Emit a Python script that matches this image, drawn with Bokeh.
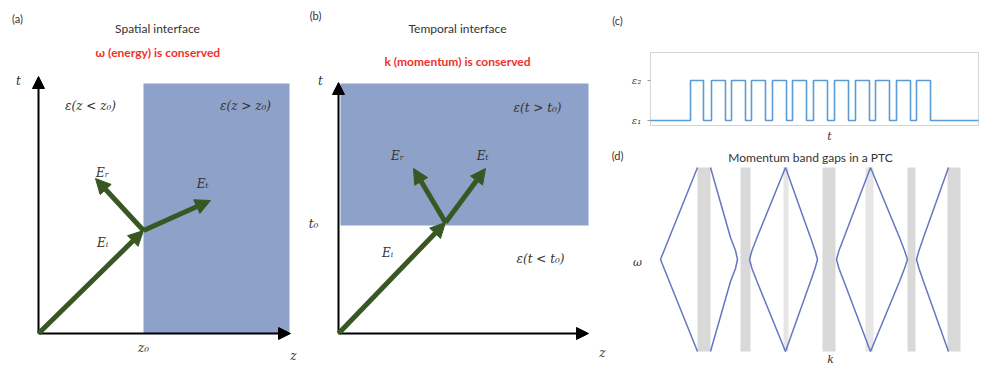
from bokeh.plotting import figure
from bokeh.models import Range1d, ColumnDataSource, Arrow, NormalHead
from bokeh.layouts import row, column
from bokeh.embed import file_html
from bokeh.resources import INLINE
from bokeh.core.properties import value

# ---------------- data ----------------
# Panel (a) spatial interface (schematic units, origin at axes origin)
a_z_axis_end = 252
a_t_axis_end = 257
a_region = dict(left=105, right=251, bottom=0, top=250)      # eps(z > z0) medium
a_wave_x0 = [0, 105, 105]
a_wave_y0 = [0, 103, 103]
a_wave_x1 = [105, 57, 172]
a_wave_y1 = [103, 155, 133]
a_wave_labels = ["Eᵢ", "Eᵣ", "Eₜ"]
a_wave_label_x = [64, 64, 164]
a_wave_label_y = [91, 161, 150]

# Panel (b) temporal interface
b_z_axis_end = 250
b_t_axis_end = 251
b_region = dict(left=2, right=250, bottom=108, top=250)      # eps(t > t0) medium
b_wave_x0 = [0, 107, 107]
b_wave_y0 = [0, 111, 111]
b_wave_x1 = [107, 75, 147]
b_wave_y1 = [111, 165, 165]
b_wave_labels = ["Eᵢ", "Eᵣ", "Eₜ"]
b_wave_label_x = [49, 59, 144]
b_wave_label_y = [81, 178, 178]

# Panel (c) permittivity modulation eps(t)
c_eps_levels = [1, 2]
c_eps_tick_labels = ["ε₁", "ε₂"]
c_t_start, c_t_end = 0, 328
c_box_eps = (0.875, 2.7)
c_t_rise = [40, 61, 81, 101, 122, 142, 163, 184, 205, 225, 246, 266]
c_t_fall = [53, 75, 95, 115, 136, 156, 177, 198, 219, 239, 260, 280]

# Panel (d) momentum band gaps (k gaps as bands, dispersion branches)
d_gap_left = [89, 132, 175, 214, 257, 299, 339]
d_gap_right = [102, 142, 180, 227, 265, 307, 352]
d_gap_shade = ["#d9d9d9", "#d9d9d9", "#e6e6e6", "#d9d9d9", "#e6e6e6", "#d9d9d9", "#d9d9d9"]
d_w_min, d_w_max = -92, 92
d_branch_k = [
    [89, 52, 89],
    [102, 122, 127, 129, 127, 122, 102],
    [141, 143.5, 148.5, 177, 202, 206.5, 209, 206.5, 202, 177, 148.5, 143.5, 141],
    [228, 230.5, 235.5, 262, 291, 296, 299, 296, 291, 262, 235.5, 230.5, 228],
    [340, 315, 310.5, 308, 310.5, 315, 340],
]
d_branch_w = [
    [92, 0, -92],
    [92, 22, 9, 0, -9, -22, -92],
    [0, 9, 22, 92, 22, 9, 0, -9, -22, -92, -22, -9, 0],
    [0, 9, 22, 92, 22, 9, 0, -9, -22, -92, -22, -9, 0],
    [92, 22, 9, 0, -9, -22, -92],
]

# ---------------- styles ----------------
GREEN = "#385723"
BLUE_BG = "#8da1c9"
RED = "#f0302a"
TXT = "#333333"
SANS = value("Lato")
SERIF = value("DejaVu Serif")


def blank_fig(w, h, xr, yr):
    p = figure(width=w, height=h, x_range=Range1d(*xr), y_range=Range1d(*yr),
               output_backend="svg", toolbar_location=None, min_border=0,
               x_axis_location=None, y_axis_location=None)
    p.grid.visible = False
    p.outline_line_color = None
    p.background_fill_color = "white"
    p.border_fill_color = "white"
    return p


def add_axes_arrows(p, zend, tend):
    for (x1, y1) in [(zend, 0), (0, tend)]:
        p.add_layout(Arrow(end=NormalHead(size=12, fill_color="black", line_color="black"),
                           x_start=0, y_start=0, x_end=x1, y_end=y1,
                           line_color="black", line_width=2))


def add_waves(p, x0, y0, x1, y1):
    src = ColumnDataSource(dict(x0=x0, y0=y0, x1=x1, y1=y1))
    p.add_layout(Arrow(end=NormalHead(size=15, fill_color=GREEN, line_color=GREEN),
                       source=src, x_start="x0", y_start="y0", x_end="x1", y_end="y1",
                       line_color=GREEN, line_width=5))


def txt(p, x, y, t, size="12px", color=TXT, font=SANS, style="normal", align="center"):
    p.text(x=[x], y=[y], text=[t], text_font=font, text_font_size=size,
           text_color=color, text_font_style=style, text_align=align,
           text_baseline="middle")


# ---------------- panel (a) ----------------
pa = blank_fig(308, 365, (-38, 270), (-32, 333))
pa.quad(left=[a_region["left"]], right=[a_region["right"]], bottom=[a_region["bottom"]],
        top=[a_region["top"]], fill_color=BLUE_BG, line_color=None)
add_axes_arrows(pa, a_z_axis_end, a_t_axis_end)
add_waves(pa, a_wave_x0, a_wave_y0, a_wave_x1, a_wave_y1)
pa.text(x=a_wave_label_x, y=a_wave_label_y, text=a_wave_labels, text_font=SERIF,
        text_font_size="12px", text_font_style="italic", text_color=TXT,
        text_align="center", text_baseline="middle")
txt(pa, -21, 315, "(a)", size="11px")
txt(pa, 119, 305, "Spatial interface", size="12px")
txt(pa, 119, 281, "ω (energy) is conserved", size="12px", color=RED, style="bold")
txt(pa, -20, 253, "t", size="12px", font=SERIF, style="italic")
txt(pa, 52, 228, "ε(z < z₀)", size="12px", font=SERIF, style="italic")
txt(pa, 207, 228, "ε(z > z₀)", size="12px", font=SERIF, style="italic")
txt(pa, 105, -14, "z₀", size="12px", font=SERIF, style="italic")
txt(pa, 255, -22, "z", size="12px", font=SERIF, style="italic")

# ---------------- panel (b) ----------------
pb = blank_fig(300, 365, (-30, 270), (-32, 333))
pb.quad(left=[b_region["left"]], right=[b_region["right"]], bottom=[b_region["bottom"]],
        top=[b_region["top"]], fill_color=BLUE_BG, line_color=None)
add_axes_arrows(pb, b_z_axis_end, b_t_axis_end)
add_waves(pb, b_wave_x0, b_wave_y0, b_wave_x1, b_wave_y1)
pb.text(x=b_wave_label_x, y=b_wave_label_y, text=b_wave_labels, text_font=SERIF,
        text_font_size="12px", text_font_style="italic", text_color=TXT,
        text_align="center", text_baseline="middle")
txt(pb, -23, 318, "(b)", size="11px")
txt(pb, 119, 305, "Temporal interface", size="12px")
txt(pb, 119, 272, "k (momentum) is conserved", size="12px", color=RED, style="bold")
txt(pb, -18, 253, "t", size="12px", font=SERIF, style="italic")
txt(pb, -25, 110, "t₀", size="12px", font=SERIF, style="italic")
txt(pb, 199, 226, "ε(t > t₀)", size="12px", font=SERIF, style="italic")
txt(pb, 202, 75, "ε(t < t₀)", size="12px", font=SERIF, style="italic")
txt(pb, 264, -19, "z", size="12px", font=SERIF, style="italic")

# ---------------- panel (c) ----------------
step_t = [c_t_start]
step_e = [c_eps_levels[0]]
for r, f in zip(c_t_rise, c_t_fall):
    step_t += [r, r, f, f]
    step_e += [c_eps_levels[0], c_eps_levels[1], c_eps_levels[1], c_eps_levels[0]]
step_t.append(c_t_end)
step_e.append(c_eps_levels[0])

pc = blank_fig(371, 143, (-42, 329), (0.425, 4.0))
# plot box (axes frame of the inset)
pc.quad(left=[c_t_start], right=[c_t_end], bottom=[c_box_eps[0]], top=[c_box_eps[1]],
        fill_color=None, line_color="#d4d4d4", line_width=1)
# y ticks and tick labels
pc.segment(x0=[-3] * len(c_eps_levels), x1=[0] * len(c_eps_levels),
           y0=c_eps_levels, y1=c_eps_levels, line_color="#999999", line_width=1)
pc.text(x=[-14] * len(c_eps_levels), y=c_eps_levels, text=c_eps_tick_labels,
        text_font=SERIF, text_font_style="italic", text_font_size="10px",
        text_color="#444444", text_align="center", text_baseline="middle")
pc.line(step_t, step_e, line_color="#5b9bd5", line_width=1.6)
txt(pc, -33, 3.5, "(c)", size="11px")
txt(pc, 179, 0.6, "t", size="11px", font=SERIF, style="italic")

# ---------------- panel (d) ----------------
pd_ = blank_fig(371, 222, (0, 371), (-106, 116))
pd_.quad(left=d_gap_left, right=d_gap_right, bottom=[d_w_min] * len(d_gap_left),
         top=[d_w_max] * len(d_gap_left), fill_color=d_gap_shade, line_color=None)
pd_.multi_line(xs=d_branch_k, ys=d_branch_w, line_color="#6577c0", line_width=1.5)
txt(pd_, 9, 104, "(d)", size="11px")
txt(pd_, 202, 102, "Momentum band gaps in a PTC", size="12px")
txt(pd_, 29, -3, "ω", size="11px", font=SERIF, style="italic")
txt(pd_, 222, -100, "k", size="11px", font=SERIF, style="italic")

layout = row(pa, pb, column(pc, pd_))
open("out.html", "w").write(file_html(layout, INLINE))
